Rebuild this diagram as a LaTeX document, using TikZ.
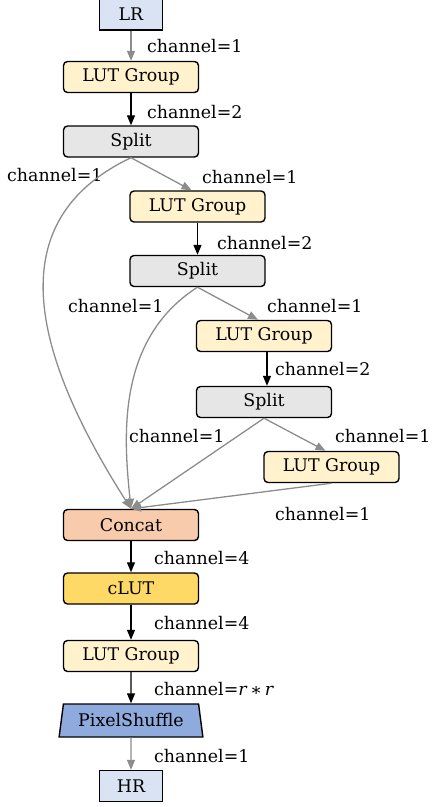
\documentclass[tikz,border=0pt]{standalone}
\usepackage{fontspec}
\setmainfont{DejaVu Serif}
\usetikzlibrary{arrows.meta,shapes.geometric}
\definecolor{iofill}{HTML}{DAE3F3}
\definecolor{lutfill}{HTML}{FFF2CC}
\definecolor{splitfill}{HTML}{E6E6E6}
\definecolor{catfill}{HTML}{F8CBAD}
\definecolor{clutfill}{HTML}{FFD966}
\definecolor{psfill}{HTML}{8FAADC}
\definecolor{arrgray}{HTML}{8C8C8C}

\begin{document}
\begin{tikzpicture}[x=1pt,y=-1pt,
  font=\fontsize{17.4}{20}\selectfont,
  blk/.style={draw,line width=1.4pt,rounded corners=4pt,minimum width=135pt,minimum height=31pt,inner sep=0pt},
  io/.style={draw,line width=1.4pt,fill=iofill,minimum width=63pt,minimum height=31pt,inner sep=0pt},
  lut/.style={blk,fill=lutfill},
  splitbox/.style={blk,fill=splitfill},
  lab/.style={anchor=west,inner sep=0pt},
  fw/.style={-{Triangle[length=10pt,width=8pt]},line width=1.3pt},
  gw/.style={fw,color=arrgray}]
\useasboundingbox (0,0) rectangle (432,807);
\node[io] (LR) at (131,14.5) {LR};
\node[lut] (L1) at (131,77) {LUT Group};
\node[splitbox] (S1) at (131,141.5) {Split};
\node[lut] (L2) at (197.5,206.5) {LUT Group};
\node[splitbox] (S2) at (197.5,271) {Split};
\node[lut] (L3) at (264,336) {LUT Group};
\node[splitbox] (S3) at (264,402) {Split};
\node[lut] (L4) at (331.5,467) {LUT Group};
\node[blk,fill=catfill] (C) at (131,525) {Concat};
\node[blk,fill=clutfill] (CL) at (131,588.5) {cLUT};
\node[lut] (L5) at (131,656) {LUT Group};
\node[draw,line width=1.4pt,fill=psfill,trapezium,trapezium stretches=true,
  trapezium angle=76,minimum width=144pt,minimum height=33pt,inner sep=0pt] (P) at (131,720.5) {PixelShuffle};
\node[io] (HR) at (131,786) {HR};
% channel labels
\node[lab] (c1) at (147,46) {channel=1};
\node[lab] (c2) at (147,112) {channel=2};
\node[lab] (c3) at (7,175) {channel=1};
\node[lab] (c4) at (202,177) {channel=1};
\node[lab] (c5) at (217,243) {channel=2};
\node[lab] (c6) at (68,306) {channel=1};
\node[lab] (c7) at (267,306) {channel=1};
\node[lab] (c8) at (275,369) {channel=2};
\node[lab] (c9) at (129,436) {channel=1};
\node[lab] (c10) at (335,436) {channel=1};
\node[lab] (c11) at (275,514) {channel=1};
\node[lab] (c12) at (154,558) {channel=4};
\node[lab] (c13) at (154,623) {channel=4};
\node[lab] (c14) at (154,691) {channel=\textit{r}\hspace{0.25em}\raisebox{-0.4ex}{*}\hspace{0.25em}\textit{r}};
\node[lab] (c15) at (154,756) {channel=1};
% main path
\draw[gw] (LR) -- (L1);
\draw[fw] (L1) -- (S1);
\draw[gw] (S1.south) -- ([xshift=-6pt]L2.north);
\draw[fw] (L2) -- (S2);
\draw[gw] (S2.south) -- ([xshift=-6pt]L3.north);
\draw[fw] ([xshift=3pt]L3.south) -- ([xshift=3pt]S3.north);
\draw[gw] (S3.south) -- ([xshift=-6pt]L4.north);
% into concat
\draw[gw] (S1.south) .. controls (0,220) and (30,350) .. (C.north);
\draw[gw] (S2.south) .. controls (115,340) and (124,440) .. (C.north);
\draw[gw] (S3.south) -- (C.north);
\draw[gw] (L4.south) -- (C.north);
\draw[fw] (C) -- (CL);
\draw[fw] (CL) -- (L5);
\draw[fw] (L5) -- (P);
\draw[gw] (P) -- (HR);
\end{tikzpicture}
\end{document}
